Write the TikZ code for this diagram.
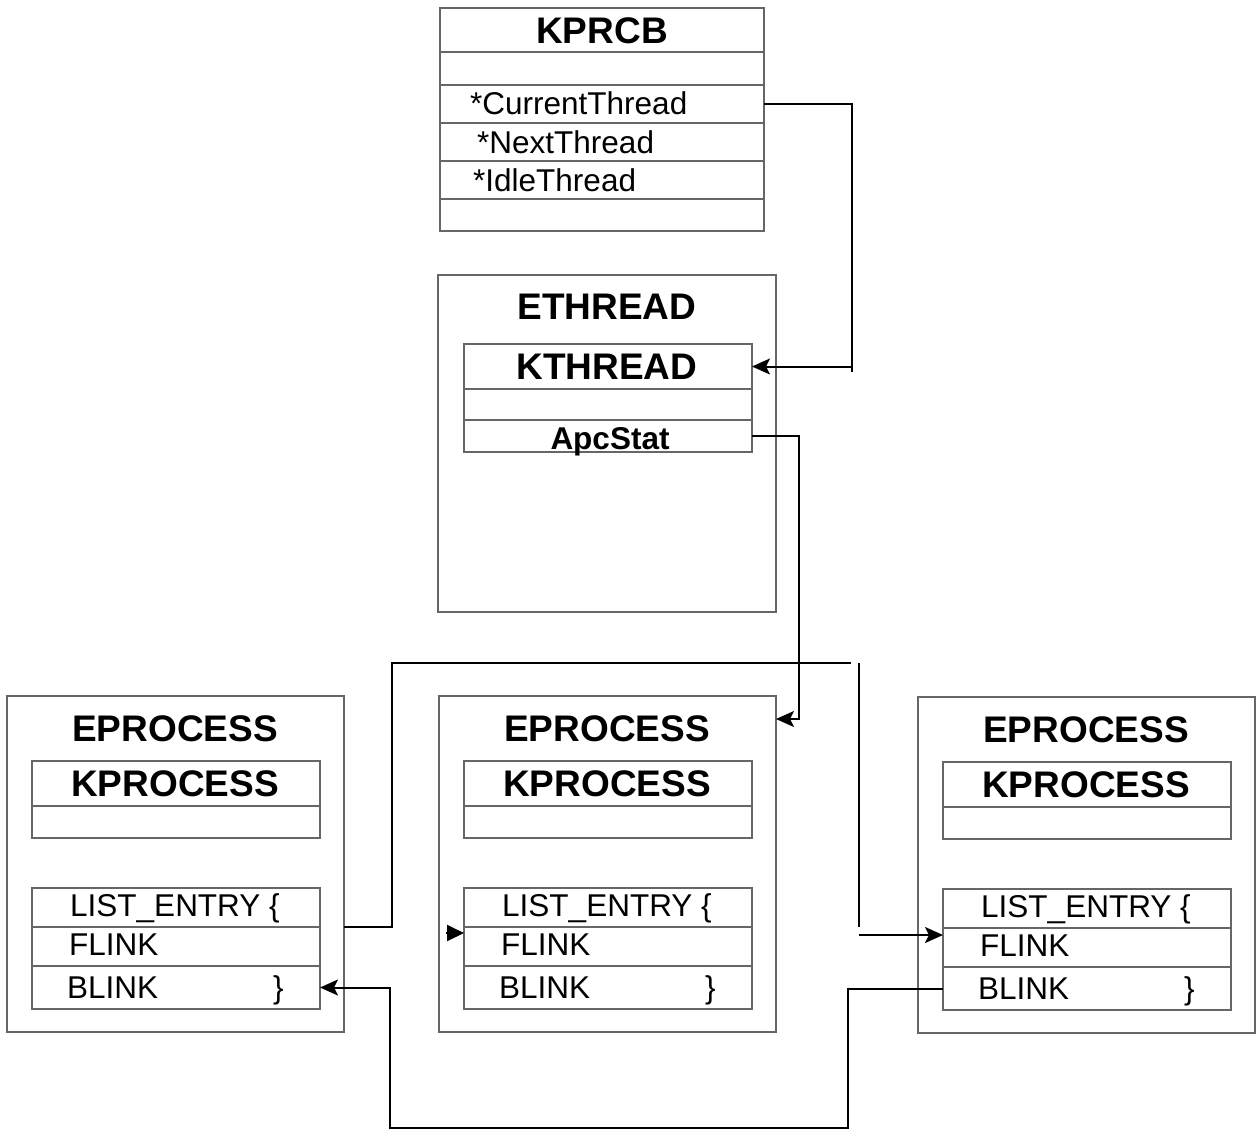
\documentclass[tikz,border=0pt]{standalone}
\usepackage{fontspec}
\setmainfont{Liberation Sans}
\usetikzlibrary{arrows.meta,calc}
\definecolor{boxgray}{gray}{0.4}
\tikzset{
  cell/.style={draw=boxgray, line width=1.5pt, rectangle, inner sep=0pt, outer sep=0pt, anchor=north west},
  ttl/.style={font=\bfseries\fontsize{37}{40}\selectfont, inner sep=0pt, anchor=base},
  sttl/.style={font=\bfseries\fontsize{31.5}{36}\selectfont, inner sep=0pt, anchor=base},
  fld/.style={font=\fontsize{31.5}{36}\selectfont, inner sep=0pt, anchor=base west},
  conn/.style={draw=black, line width=2pt},
  tip/.style={-{Stealth[length=18pt,width=16pt,inset=4pt]}},
  lonetip/.style={-{Triangle[length=17pt,width=16pt]}},
}
\begin{document}
\begin{tikzpicture}[x=1pt,y=-1pt]
\useasboundingbox (0,0) rectangle (1257,1130);

% ---------- KPRCB ----------
\node[cell, minimum width=324pt, minimum height=44pt] (kp0) at (440,8) {};
\node[cell, minimum width=324pt, minimum height=33pt] (kp1) at (440,52) {};
\node[cell, minimum width=324pt, minimum height=38pt] (kpcur) at (440,85) {};
\node[cell, minimum width=324pt, minimum height=38pt] (kpnext) at (440,123) {};
\node[cell, minimum width=324pt, minimum height=38pt] (kpidle) at (440,161) {};
\node[cell, minimum width=324pt, minimum height=32pt] (kp5) at (440,199) {};
\node[ttl] (kprcbT) at (602,43) {KPRCB};
\node[fld] (curT) at (470,114) {*CurrentThread};
\node[fld] (nextT) at (477,153) {*NextThread};
\node[fld] (idleT) at (473,191) {*IdleThread};

% ---------- ETHREAD ----------
\node[cell, minimum width=338pt, minimum height=337pt] (eth) at (438,275) {};
\node[ttl] (ethT) at (607,319) {ETHREAD};
\node[cell, minimum width=288pt, minimum height=45pt] (kth) at (464,344) {};
\node[cell, minimum width=288pt, minimum height=31pt] (kth1) at (464,389) {};
\node[cell, minimum width=288pt, minimum height=32pt] (apc) at (464,420) {};
\node[ttl] (kthT) at (607,379) {KTHREAD};
\node[sttl] (apcT) at (610,449) {ApcStat};

% ---------- EPROCESS x3 ----------
\foreach \i/\dx/\dy in {1/0/0, 2/432/0, 3/911/1}{
  \begin{scope}[shift={(\dx,\dy)}]
    \node[cell, minimum width=337pt, minimum height=336pt] (ep\i) at (7,696) {};
    \node[ttl] (epT\i) at (175,741) {EPROCESS};
    \node[cell, minimum width=288pt, minimum height=45pt] (kpr\i) at (32,761) {};
    \node[cell, minimum width=288pt, minimum height=32pt] (kprb\i) at (32,806) {};
    \node[ttl] (kprT\i) at (175,796) {KPROCESS};
    \node[cell, minimum width=288pt, minimum height=39pt] (le\i) at (32,888) {};
    \node[cell, minimum width=288pt, minimum height=39pt] (fl\i) at (32,927) {};
    \node[cell, minimum width=288pt, minimum height=43pt] (bl\i) at (32,966) {};
    \node[fld] (leT\i) at (70,916) {LIST\_ENTRY \{};
    \node[fld] (flT\i) at (69,955) {FLINK};
    \node[fld] (blT\i) at (67,998) {BLINK};
    \node[fld] (brT\i) at (273,998) {\}};
  \end{scope}
}

% ---------- connectors ----------
% CurrentThread -> KTHREAD
\coordinate (curBend) at (852,372);
\draw[conn] (kpcur.east) -| (curBend);
\draw[conn,tip] (kth.east -| curBend) -- (kth.east);

% ApcStat -> EPROCESS (middle)
\draw[conn,tip] (apc.east) -- ++(47,0) |- ([yshift=-23pt]ep2.north east);

% left FLINK -> top line
\coordinate (topEnd) at (851,663);
\draw[conn] (ep1.east |- le1.south) -- ++(48,0) |- (topEnd);

% top line -> right FLINK
\coordinate (topStart) at (859,663);
\coordinate (dropEnd) at (859,927);
\coordinate (flStart) at (859,935);
\draw[conn] (topStart) -- (dropEnd);
\draw[conn,tip] (flStart) -- (flStart -| fl3.west);

% lone arrowhead into middle FLINK
\coordinate (loneStart) at (446,933);
\draw[conn,lonetip] (loneStart) -- (loneStart -| fl2.west);

% right BLINK -> left BLINK
\coordinate (bR) at (848,1128);
\coordinate (bL) at (390,1128);
\draw[conn,tip] (bl3.west) -- (bl3.west -| bR) -- (bR) -- (bL) |- (bl1.east);

\end{tikzpicture}
\end{document}
